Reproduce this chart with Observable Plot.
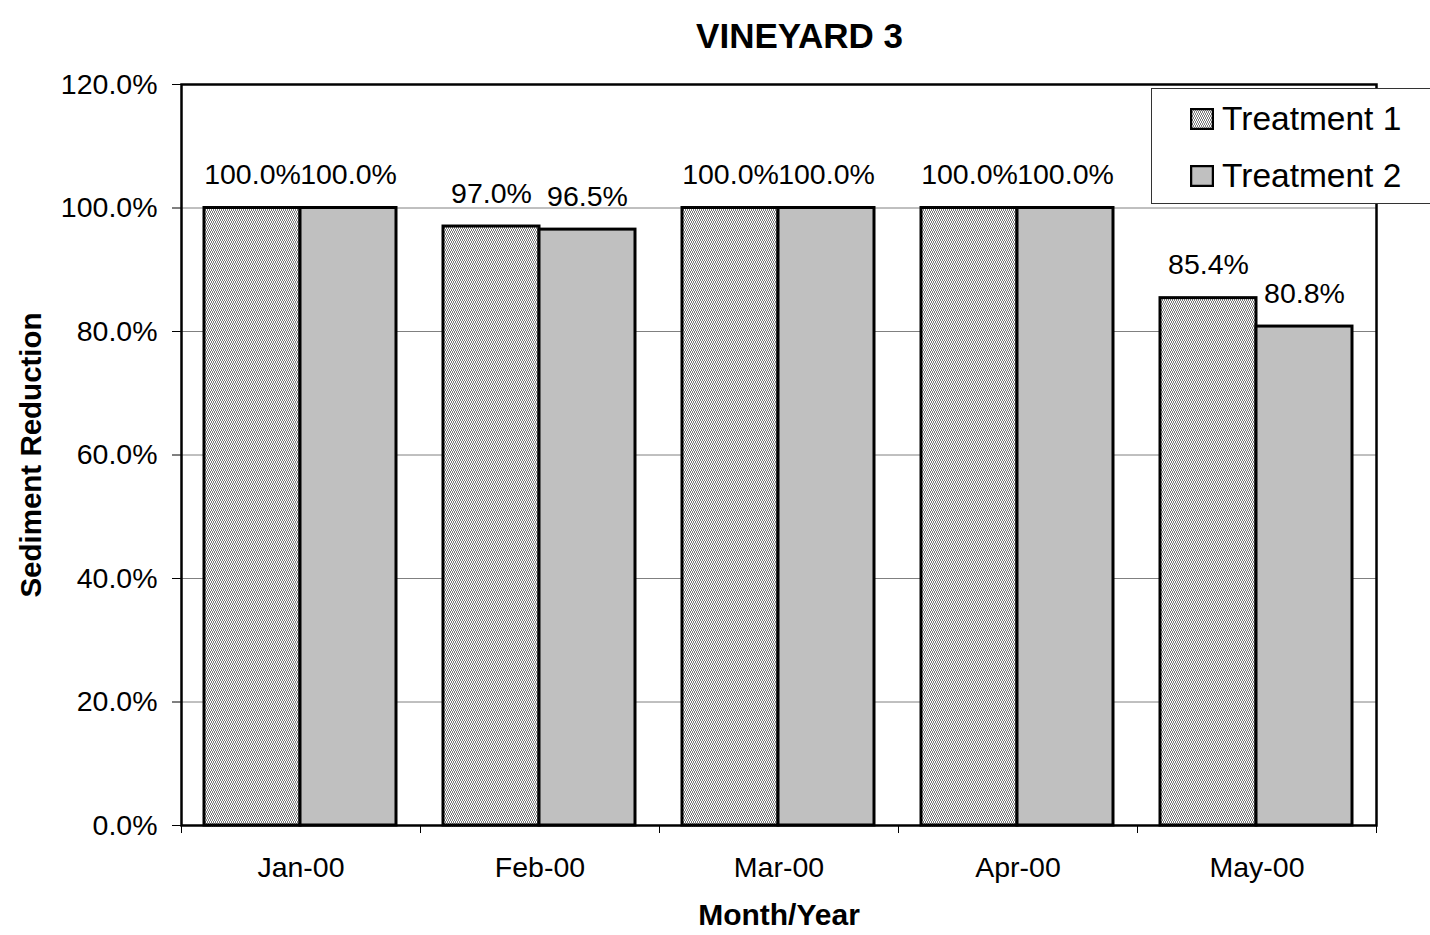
<!DOCTYPE html>
<html>
<head>
<meta charset="utf-8">
<script src="https://cdn.jsdelivr.net/npm/d3@7"></script>
<script src="https://cdn.jsdelivr.net/npm/@observablehq/plot@0.6"></script>
<style>
  html, body { margin: 0; padding: 0; background: white; overflow: hidden; }
  #wrap { position: relative; width: 1430px; height: 935px; font-family: "Liberation Sans", Arial, sans-serif; }
  #legend { position: absolute; left: 1151px; top: 88px; width: 300px; height: 116px; background: white;
            border: 1px solid #333; box-sizing: border-box; }
  .item { position: absolute; left: 38px; height: 40px; display: flex; align-items: center; font-size: 33.5px; color: black; }
  .item svg { margin-right: 8px; }
</style>
</head>
<body>
<div id="wrap"></div>
<script>
// ---- data ----
const months = ["Jan-00", "Feb-00", "Mar-00", "Apr-00", "May-00"];
const treatment1 = [1.000, 0.970, 1.000, 1.000, 0.854];
const treatment2 = [1.000, 0.965, 1.000, 1.000, 0.808];
const seriesNames = ["Treatment 1", "Treatment 2"];
const yTicks = [0, 0.2, 0.4, 0.6, 0.8, 1.0, 1.2];
const chartTitle = "VINEYARD 3";
const xTitle = "Month/Year";
const yTitle = "Sediment Reduction";

const rows1 = months.map((m, i) => ({month: m, value: treatment1[i], series: seriesNames[0]}));
const rows2 = months.map((m, i) => ({month: m, value: treatment2[i], series: seriesNames[1]}));
const pct = d3.format(".1%");

const plot = Plot.plot({
  width: 1430,
  height: 935,
  marginLeft: 181,
  marginRight: 54,
  marginTop: 84,
  marginBottom: 110,
  style: {fontFamily: "'Liberation Sans', Arial, sans-serif", fontSize: "28.5px", color: "black", background: "white", overflow: "visible"},
  x: {domain: months, padding: 0, axis: "bottom", tickSize: 0, tickPadding: 31, label: null},
  y: {domain: [0, 1.2], ticks: 6, tickFormat: ".1%", tickSize: 9, tickPadding: 15, label: null},
  marks: [
    Plot.ruleY(yTicks, {y: d => d, stroke: "#808080", strokeWidth: 1}),
    Plot.barY(rows1, {x: "month", y: "value", fill: "url(#t1pattern)", stroke: "black", strokeWidth: 3, insetLeft: 23, insetRight: 120}),
    Plot.barY(rows2, {x: "month", y: "value", fill: "#c0c0c0", stroke: "black", strokeWidth: 3, insetLeft: 119, insetRight: 24}),
    Plot.text(rows1, {x: "month", y: "value", text: d => pct(d.value), dx: -48.5, dy: -33, fill: "black"}),
    Plot.text(rows2, {x: "month", y: "value", text: d => pct(d.value), dx: 47.5, dy: -33, fill: "black"}),
    Plot.ruleX(months, {x: d => d, dx: -119.5, y1: 0, y2: -0.013, stroke: "black"}),
    Plot.ruleX([months[months.length - 1]], {x: d => d, dx: 119.5, y1: 0, y2: -0.013, stroke: "black"}),
    Plot.frame({stroke: "black", strokeWidth: 2.5}),
    Plot.text([chartTitle], {text: d => d, frameAnchor: "top", textAnchor: "middle", dx: 20.5, dy: -61, fontWeight: "bold", fontSize: 35, fill: "black"}),
    Plot.text([xTitle], {text: d => d, frameAnchor: "bottom", textAnchor: "middle", dy: 99, fontWeight: "bold", fontSize: 30, fill: "black"}),
    Plot.text([yTitle], {text: d => d, frameAnchor: "left", textAnchor: "middle", dx: -150, rotate: -90, fontWeight: "bold", fontSize: 29.5, fill: "black"})
  ]
});

const patternDefs = `<defs>
  <pattern id="t1pattern" patternUnits="userSpaceOnUse" width="4" height="4">
    <rect width="4" height="4" fill="#ffffff"></rect>
    <polyline points="0,0 2,2 0,4" fill="none" stroke="#5a5a5a" stroke-width="0.8"></polyline>
    <polyline points="2,0 4,2 2,4" fill="none" stroke="#5a5a5a" stroke-width="0.8"></polyline>
  </pattern>
</defs>`;
plot.insertAdjacentHTML("afterbegin", patternDefs);

const wrap = document.getElementById("wrap");
wrap.appendChild(plot);

// legend
const legend = document.createElement("div");
legend.id = "legend";
const fills = ["url(#t1pattern)", "#c0c0c0"];
const tops = [10, 67];
seriesNames.forEach((name, i) => {
  const item = document.createElement("div");
  item.className = "item";
  item.style.top = tops[i] + "px";
  item.innerHTML = `<svg width="24" height="22"><rect x="1" y="1" width="22" height="20" fill="${fills[i]}" stroke="black" stroke-width="2.5"></rect></svg><span>${name}</span>`;
  legend.appendChild(item);
});
wrap.appendChild(legend);
</script>
</body>
</html>
